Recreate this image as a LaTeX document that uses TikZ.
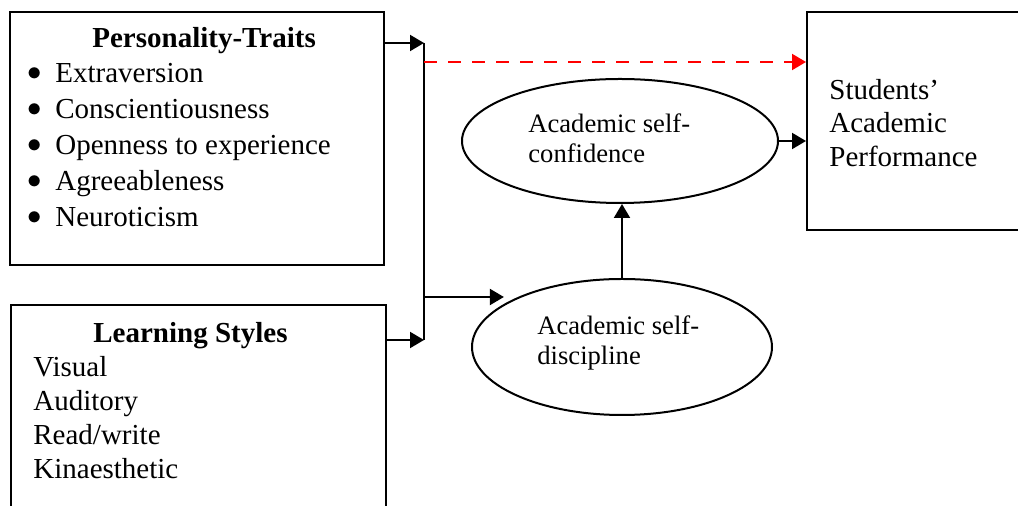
\documentclass[tikz,border=0pt]{standalone}
\usepackage{fontspec}
\setmainfont{Liberation Serif}
\usetikzlibrary{shapes.geometric, arrows.meta}

\begin{document}
\begin{tikzpicture}[x=0.5pt, y=-0.5pt,
    % Define styles
    box/.style={rectangle, draw=black, line width=1pt, inner sep=0pt},
    oval/.style={ellipse, draw=black, line width=1pt, inner sep=0pt},
    item/.style={anchor=base west, inner sep=0pt, font=\fontsize{14.5}{18}\selectfont},
    heading/.style={item, font=\fontsize{14.5}{18}\selectfont\bfseries},
    dot/.style={anchor=base, inner sep=0pt, font=\fontsize{14.4}{18}\selectfont},
    ovaltext/.style={anchor=base west, inner sep=0pt, font=\fontsize{13.3}{15}\selectfont},
    link/.style={->, line width=1pt, >={Triangle[length=7pt, width=8pt]}},
    effect/.style={link, red, dash pattern=on 6.5pt off 5.5pt}
]
\useasboundingbox (0,0) rectangle (1018,506);
\clip (0,0) rectangle (1018,506);

% Personality traits box
\node[box, minimum width=187pt, minimum height=126.5pt] (traits) at (197,138.5) {};
\node[heading] (traits_title) at (92,48) {Personality-Traits};
\node[dot] (bullet1) at (35,81) {$\bullet$};
\node[item] (trait1) at (55,83) {Extraversion};
\node[dot] (bullet2) at (35,117) {$\bullet$};
\node[item] (trait2) at (55,119) {Conscientiousness};
\node[dot] (bullet3) at (35,153) {$\bullet$};
\node[item] (trait3) at (55,155) {Openness to experience};
\node[dot] (bullet4) at (35,189) {$\bullet$};
\node[item] (trait4) at (55,191) {Agreeableness};
\node[dot] (bullet5) at (35,225) {$\bullet$};
\node[item] (trait5) at (55,227) {Neuroticism};

% Learning styles box
\node[box, minimum width=187.5pt, minimum height=127.5pt] (styles) at (198.5,432.5) {};
\node[heading] (styles_title) at (93,343) {Learning Styles};
\node[item] (style1) at (33,377) {Visual};
\node[item] (style2) at (33,411) {Auditory};
\node[item] (style3) at (33,445) {Read/write};
\node[item] (style4) at (33,479) {Kinaesthetic};

% Mediators
\node[oval, minimum width=158pt, minimum height=62pt] (conf) at (620,141) {};
\node[ovaltext] (conf_text1) at (528,133) {Academic self-};
\node[ovaltext] (conf_text2) at (528,163) {confidence};

\node[oval, minimum width=150pt, minimum height=68pt] (disc) at (622,347) {};
\node[ovaltext] (disc_text1) at (537,335) {Academic self-};
\node[ovaltext] (disc_text2) at (537,365) {discipline};

% Outcome box
\node[box, minimum width=111.5pt, minimum height=109pt] (perf) at (918.5,121) {};
\node[item] (perf_text1) at (829,100) {Students’};
\node[item] (perf_text2) at (829,133) {Academic};
\node[item] (perf_text3) at (829,167) {Performance};

% Joining bar
\coordinate (bar_top) at (424,43);
\coordinate (bar_bot) at (424,340);
\coordinate (red_start) at (424,62);
\coordinate (disc_in) at (424,297);

% Relationships
\draw[link] (traits.east |- bar_top) -- (bar_top);
\draw[link] (styles.east |- bar_bot) -- (bar_bot);
\draw[line width=1pt] (bar_top) -- (bar_bot);
\draw[effect] (red_start) -- (red_start -| perf.west);
\draw[link] (disc_in) -- (disc_in -| disc.160);
\draw[link] (disc.north) -- (disc.north |- conf.south);
\draw[link] (conf.east) -- (conf.east -| perf.west);

\end{tikzpicture}
\end{document}
